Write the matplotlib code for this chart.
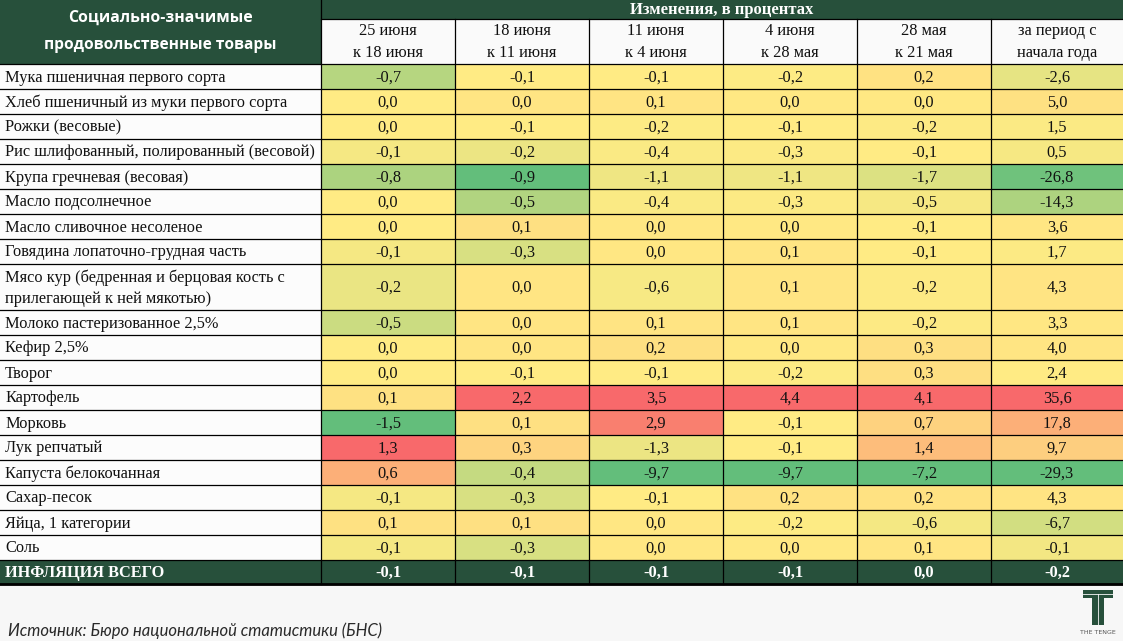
import matplotlib.pyplot as plt
from matplotlib.patches import Rectangle
import numpy as np

# данные таблицы
products = [
    "Мука пшеничная первого сорта",
    "Хлеб пшеничный из муки первого сорта",
    "Рожки (весовые)",
    "Рис шлифованный, полированный (весовой)",
    "Крупа гречневая (весовая)",
    "Масло подсолнечное",
    "Масло сливочное несоленое",
    "Говядина лопаточно-грудная часть",
    "Мясо кур (бедренная и берцовая кость с\nприлегающей к ней мякотью)",
    "Молоко пастеризованное 2,5%",
    "Кефир 2,5%",
    "Творог",
    "Картофель",
    "Морковь",
    "Лук репчатый",
    "Капуста белокочанная",
    "Сахар-песок",
    "Яйца, 1 категории",
    "Соль",
]
periods = ["25 июня\nк 18 июня", "18 июня\nк 11 июня", "11 июня\nк 4 июня",
           "4 июня\nк 28 мая", "28 мая\nк 21 мая", "за период с\nначала года"]

jun25 = [-0.7, 0.0, 0.0, -0.1, -0.8, 0.0, 0.0, -0.1, -0.2, -0.5, 0.0, 0.0, 0.1, -1.5, 1.3, 0.6, -0.1, 0.1, -0.1]
jun18 = [-0.1, 0.0, -0.1, -0.2, -0.9, -0.5, 0.1, -0.3, 0.0, 0.0, 0.0, -0.1, 2.2, 0.1, 0.3, -0.4, -0.3, 0.1, -0.3]
jun11 = [-0.1, 0.1, -0.2, -0.4, -1.1, -0.4, 0.0, 0.0, -0.6, 0.1, 0.2, -0.1, 3.5, 2.9, -1.3, -9.7, -0.1, 0.0, 0.0]
jun04 = [-0.2, 0.0, -0.1, -0.3, -1.1, -0.3, 0.0, 0.1, 0.1, 0.1, 0.0, -0.2, 4.4, -0.1, -0.1, -9.7, 0.2, -0.2, 0.0]
may28 = [0.2, 0.0, -0.2, -0.1, -1.7, -0.5, -0.1, -0.1, -0.2, -0.2, 0.3, 0.3, 4.1, 0.7, 1.4, -7.2, 0.2, -0.6, 0.1]
ytd = [-2.6, 5.0, 1.5, 0.5, -26.8, -14.3, 3.6, 1.7, 4.3, 3.3, 4.0, 2.4, 35.6, 17.8, 9.7, -29.3, 4.3, -6.7, -0.1]
inflation = [-0.1, -0.1, -0.1, -0.1, 0.0, -0.2]

columns = [jun25, jun18, jun11, jun04, may28, ytd]

GREEN_HDR = "#27503B"
C_MIN = np.array([99, 190, 123]) / 255
C_MID = np.array([255, 235, 132]) / 255
C_MAX = np.array([248, 105, 107]) / 255


# трёхцветная шкала как в Excel: минимум - медиана - максимум
def scale_color(v, vals):
    lo, mid, hi = min(vals), float(np.median(vals)), max(vals)
    if v <= mid:
        t = 0 if mid == lo else (v - lo) / (mid - lo)
        return C_MIN + (C_MID - C_MIN) * t
    t = 0 if hi == mid else (v - mid) / (hi - mid)
    return C_MID + (C_MAX - C_MID) * t


def fmt(v):
    return f"{v:.1f}".replace(".", ",")


fig = plt.figure(figsize=(11.23, 6.41), dpi=100, facecolor="#F7F7F7")
ax = fig.add_axes([0, 0, 1, 1])
ax.set_xlim(0, 1123)
ax.set_ylim(641, 0)
ax.axis("off")

x_edges = [0, 321, 455, 589, 723, 857, 991, 1123]
row_h = [46 if "\n" in p else 25 for p in products]
y_top = 64
y_edges = [y_top]
for h in row_h:
    y_edges.append(y_edges[-1] + h)
y_inf = y_edges[-1]
y_end = y_inf + 24

serif = "Liberation Serif"
fs = 11.8

# шапка
ax.add_patch(Rectangle((0, 0), 321, 64, facecolor=GREEN_HDR, edgecolor="none"))
ax.add_patch(Rectangle((321, 0), 802, 19, facecolor=GREEN_HDR, edgecolor="none"))
ax.text(160, 18, "Социально-значимые", ha="center", va="center", color="white",
        fontsize=11.4, fontweight="bold", family="Open Sans")
ax.text(160, 45, "продовольственные товары", ha="center", va="center", color="white",
        fontsize=11.2, fontweight="bold", family="Open Sans")
ax.text(722, 10, "Изменения, в процентах", ha="center", va="center", color="white",
        fontsize=12, fontweight="bold", family=serif)
for j, p in enumerate(periods):
    x0, x1 = x_edges[j + 1], x_edges[j + 2]
    ax.add_patch(Rectangle((x0, 19), x1 - x0, 45, facecolor="#FAFAFA", edgecolor="none"))
    l1, l2 = p.split("\n")
    ax.text((x0 + x1) / 2, 31, l1, ha="center", va="center", fontsize=fs, family=serif, color="#111111")
    ax.text((x0 + x1) / 2, 53, l2, ha="center", va="center", fontsize=fs, family=serif, color="#111111")

# строки с данными
for i, name in enumerate(products):
    y0, y1 = y_edges[i], y_edges[i + 1]
    ax.add_patch(Rectangle((0, y0), 321, y1 - y0, facecolor="#FCFCFC", edgecolor="none"))
    ax.text(5, (y0 + y1) / 2 + 1, name, ha="left", va="center", fontsize=fs, family=serif,
            color="#111111", linespacing=1.45)
    for j, col in enumerate(columns):
        x0, x1 = x_edges[j + 1], x_edges[j + 2]
        ax.add_patch(Rectangle((x0, y0), x1 - x0, y1 - y0,
                               facecolor=scale_color(col[i], col), edgecolor="none"))
        ax.text((x0 + x1) / 2, (y0 + y1) / 2 + 1, fmt(col[i]), ha="center", va="center",
                fontsize=fs, family=serif, color="#111111")

# итоговая строка
ax.add_patch(Rectangle((0, y_inf), 1123, y_end - y_inf, facecolor=GREEN_HDR, edgecolor="none"))
ax.text(5, (y_inf + y_end) / 2 + 1, "ИНФЛЯЦИЯ ВСЕГО", ha="left", va="center", fontsize=fs,
        family=serif, fontweight="bold", color="white")
for j, v in enumerate(inflation):
    x0, x1 = x_edges[j + 1], x_edges[j + 2]
    ax.text((x0 + x1) / 2, (y_inf + y_end) / 2 + 1, fmt(v), ha="center", va="center",
            fontsize=fs, family=serif, fontweight="bold", color="white")

# линии сетки
for y in y_edges + [y_end]:
    ax.plot([0, 1123], [y, y], color="black", lw=0.9)
ax.plot([0, 1123], [y_end, y_end], color="black", lw=2)
for k, x in enumerate(x_edges[1:-1]):
    ax.plot([x, x], [0 if k == 0 else 19, y_end], color="black", lw=0.9)
ax.plot([321, 1123], [19, 19], color="black", lw=0.9)

# источник
ax.text(8, 631, "Источник: Бюро национальной статистики (БНС)", ha="left", va="center",
        fontsize=12, style="italic", family="Lato", color="#2A2A2A")

# логотип
ax.add_patch(Rectangle((1083, 590), 30, 8, facecolor=GREEN_HDR, edgecolor="none"))
ax.add_patch(Rectangle((1092, 598), 12, 27, facecolor=GREEN_HDR, edgecolor="none"))
ax.plot([1083, 1113], [594, 594], color="#F7F7F7", lw=0.6)
ax.plot([1098, 1098], [594, 625], color="#F7F7F7", lw=0.6)
ax.text(1098, 633, "THE TENGE", ha="center", va="center", fontsize=4.5, family="DejaVu Sans",
        color="#555555")

fig.savefig("out.png", dpi=100, facecolor=fig.get_facecolor())
